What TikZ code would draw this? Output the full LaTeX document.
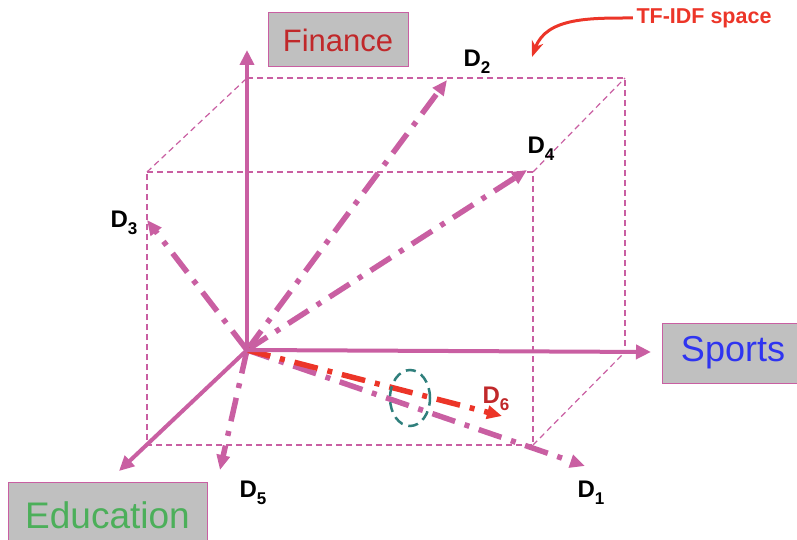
\documentclass[tikz,border=0pt]{standalone}
\usepackage{fontspec}
\setmainfont{Liberation Sans}
\usetikzlibrary{arrows.meta,positioning,shapes.geometric}
\definecolor{vecpink}{HTML}{C95FA2}
\definecolor{boxgrey}{HTML}{C0C0C0}
\definecolor{fincolor}{HTML}{C0282A}
\definecolor{sportscolor}{HTML}{2F34F0}
\definecolor{educolor}{HTML}{4CAF5A}
\definecolor{hotred}{HTML}{EC3528}
\definecolor{ovalteal}{HTML}{2F7F7C}
\newcommand{\docname}[1]{D\raisebox{-7pt}{\fontsize{17}{17}\selectfont #1}}
\tikzset{
  % ---- category boxes -------------------------------------------------
  catbox/.style={
    draw=vecpink, line width=1pt, fill=boxgrey, inner sep=0pt},
  dlabel/.style={font=\bfseries\fontsize{24}{26}\selectfont},
  % ---- arrows ---------------------------------------------------------
  axisarrow/.style={
    -{Triangle[length=15pt,width=14pt]}, draw=vecpink, line width=4pt},
  docvec/.style={
    -{Triangle[length=15pt,width=13pt]}, draw=vecpink, line width=5.5pt,
    dash pattern=on 24pt off 10pt on 5pt off 10pt},
  queryvec/.style={docvec, draw=hotred},
  spacearrow/.style={
    -{Stealth[length=16pt,width=12pt,inset=5pt]}, draw=hotred, line width=3pt},
  % ---- cube -----------------------------------------------------------
  cubeedge/.style={draw=vecpink, line width=1.2pt, dash pattern=on 6pt off 4pt},
}

\begin{document}
\begin{tikzpicture}[x=1pt, y=-1pt]
\useasboundingbox (0,0) rectangle (797,540);

% ---- cube corners ----------------------------------------------------
\coordinate (o) at (247,350);
\coordinate (ftl) at (147,172);
\coordinate (ftr) at (533,172);
\coordinate (fbr) at (533,445);
\coordinate (fbl) at (147,445);
\coordinate (btl) at (247,78);
\coordinate (btr) at (625,78);
\coordinate (bbr) at (625,352);

% ---- cube edges ------------------------------------------------------
\draw[cubeedge] (ftl) -- (ftr) -- (fbr) -- (fbl) -- cycle;
\draw[cubeedge] (btl) -- (btr) -- (bbr);
\draw[cubeedge] (ftl) -- (btl);
\draw[cubeedge] (ftr) -- (btr);
\draw[cubeedge] (fbr) -- (bbr);

% ---- document vectors ------------------------------------------------
\coordinate (d1tip) at (585,466);
\coordinate (d2tip) at (447,80);
\coordinate (d3tip) at (147,220);
\coordinate (d4tip) at (527,170);
\coordinate (d5tip) at (220,470);
\coordinate (d6tip) at (502,416);

\foreach \n in {1,...,5}{
  \draw[docvec] (o) -- (d\n tip);
}
\draw[queryvec] (o) -- (d6tip);

\node[dlabel] (d1) at (591,493) {\docname{1}};
\node[dlabel] (d2) at (477,62) {\docname{2}};
\node[dlabel] (d3) at (124,223) {\docname{3}};
\node[dlabel] (d4) at (541,149) {\docname{4}};
\node[dlabel] (d5) at (253,493) {\docname{5}};
\node[dlabel, text=fincolor] (d6) at (496,399) {\docname{6}};

% ---- overlap mark ----------------------------------------------------
\node[ellipse, draw=ovalteal, line width=2.5pt, dash pattern=on 10pt off 6pt,
      minimum width=40pt, minimum height=56pt] (overlap) at (410,398) {};

% ---- axes ------------------------------------------------------------
\coordinate (fintip) at (247,50);
\coordinate (sptip) at (651,352);
\coordinate (edutip) at (119,471);
\draw[axisarrow] (o) -- (fintip);
\draw[axisarrow] (o) -- (sptip);
\draw[axisarrow] (o) -- (edutip);

\node[catbox, minimum width=140pt, minimum height=54pt, text=fincolor,
      font=\fontsize{31}{33}\selectfont] (finance) at (338,40) {Finance};
\node[catbox, minimum width=142pt, minimum height=60pt, text=sportscolor,
      font=\fontsize{36}{38}\selectfont] (sports) at (733,353) {Sports};
\node[catbox, minimum width=199pt, minimum height=66pt, text=educolor,
      font=\fontsize{37}{39}\selectfont] (education) at (107.5,515) {Education};

% ---- space label -----------------------------------------------------
\node[font=\bfseries\fontsize{21.5}{23}\selectfont, text=hotred]
  (tfidf) at (704,18) {TF-IDF space};
\coordinate (spacetip) at (532,57);
\draw[spacearrow] (tfidf.west) to[out=180, in=70] (spacetip);

\end{tikzpicture}
\end{document}
